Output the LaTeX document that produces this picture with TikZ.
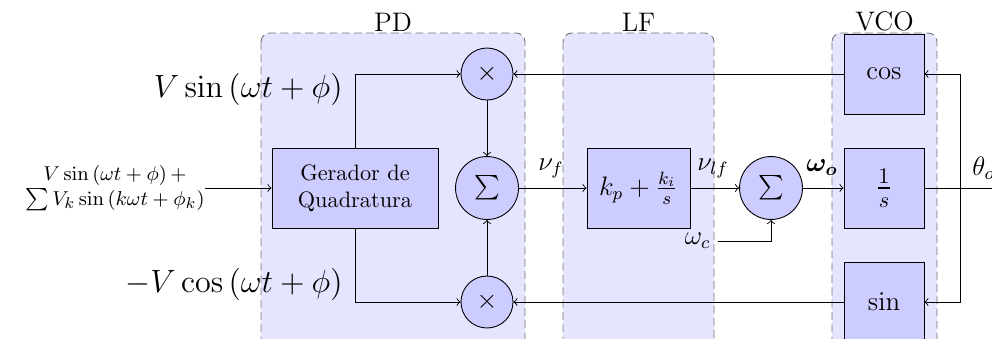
\documentclass[tikz,border=0pt]{standalone}
\usepackage{amsmath}
\begin{document}
\begin{tikzpicture}[x=0.448pt,y=-0.448pt,>=to,
  grp/.style={fill=blue!10,draw=black!55,dash pattern=on 3.5pt off 2pt,rounded corners=4pt},
  grplabel/.style={font=\large,anchor=south,inner sep=0pt},
  blk/.style={draw,fill=blue!20,minimum height=35.8pt,align=center,inner sep=2pt},
  mult/.style={draw,circle,fill=blue!20,minimum size=23.3pt,inner sep=0pt,font=\large},
  summ/.style={draw,circle,fill=blue!20,minimum size=28.2pt,inner sep=0pt,font=\fontsize{11}{13}\selectfont},
  sig/.style={font=\large,inner sep=0pt}]
\useasboundingbox (0,0) rectangle (992,338);
% groups
\draw[grp] (261,33) rectangle (525,370);
\draw[grp] (563,33) rectangle (714,370);
\draw[grp] (832,33) rectangle (937,370);
\node[grplabel] (pdlbl) at (393,32) {PD};
\node[grplabel] (lflbl) at (638.5,32) {LF};
\node[grplabel] (vcolbl) at (884.5,32) {VCO};
% blocks
\node[blk,minimum width=74.4pt] (qg) at (355,188) {Gerador de\\Quadratura};
\node[mult] (m1) at (487,74) {$\times$};
\node[summ] (s1) at (487,188) {$\sum$};
\node[mult] (m2) at (487,302) {$\times$};
\node[blk,minimum width=46.1pt,font=\large] (lf) at (638.5,188) {$k_p+\frac{k_i}{s}$};
\node[summ] (s2) at (771,188) {$\sum$};
\node[blk,minimum width=35.8pt,font=\large] (cosb) at (884,74) {$\cos$};
\node[blk,minimum width=35.8pt,font=\Large] (intb) at (884,188) {$\frac{1}{s}$};
\node[blk,minimum width=35.8pt,font=\large] (sinb) at (884,302) {$\sin$};
\coordinate (j) at (960,188);
\coordinate (out) at (1010,188);
% labels
\node[anchor=east,inner sep=0pt,font=\fontsize{9.5}{11}\selectfont,align=center] (inlbl) at (205,188)
  {$V\sin\left(\omega t+\phi\right)+$\\$\mathop{\mbox{\normalsize$\sum$}} V_k\sin\left(k\omega t+\phi_k\right)$};
\node[anchor=east,inner sep=0pt,font=\Large] (lsin) at (343,89) {$V\sin\left(\omega t+\phi\right)$};
\node[anchor=east,inner sep=0pt,font=\Large] (lcos) at (343,284) {$-V\cos\left(\omega t+\phi\right)$};
\node[sig] (nuf) at (551,168) {$\nu_f$};
\node[sig] (nulf) at (713,168) {$\nu_{lf}$};
\node[sig] (wo) at (822,168) {$\boldsymbol{\omega_o}$};
\node[sig,anchor=west] (tho) at (972,168) {$\theta_o$};
\node[sig,anchor=east] (wc) at (711,241) {$\omega_c$};
% connectors
\draw[->] (inlbl.east) -- (qg.west);
\draw[->] (qg.north) |- (m1.west);
\draw[->] (qg.south) |- (m2.west);
\draw[->] (m1) -- (s1);
\draw[->] (m2) -- (s1);
\draw[->] (s1) -- (lf);
\draw[->] (lf) -- (s2);
\draw[->] (wc.east) ++(7,0) -| (s2.south);
\draw[->] (s2) -- (intb);
\draw (intb.east) -- (out);
\draw[->] (intb.east) -- (j) |- (cosb.east);
\draw[->] (j) |- (sinb.east);
\draw[->] (cosb) -- (m1);
\draw[->] (sinb) -- (m2);
\end{tikzpicture}
\end{document}
